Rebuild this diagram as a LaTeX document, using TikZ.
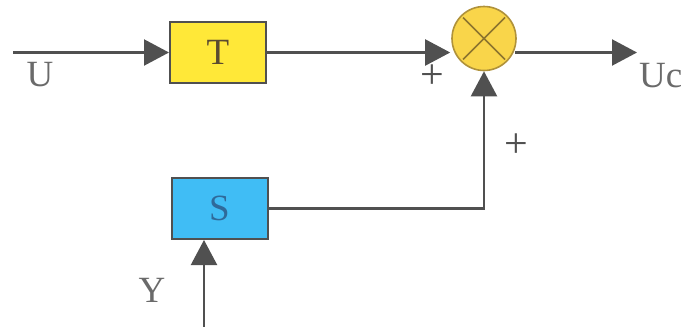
\documentclass[tikz,border=0pt]{standalone}
\usepackage{fontspec}
\setmainfont{Liberation Serif}
\usetikzlibrary{arrows.meta,calc}
\definecolor{lin}{HTML}{505050}
\definecolor{tfill}{HTML}{FFE838}
\definecolor{sfill}{HTML}{40BDF5}
\definecolor{cfill}{HTML}{F9D54A}
\definecolor{cedge}{HTML}{B0923A}
\definecolor{txt}{HTML}{6A6A6A}
\definecolor{stxt}{HTML}{2F6A9A}
\definecolor{ttxt}{HTML}{5A4A30}
\tikzset{
  blk/.style={draw=lin, line width=2pt, minimum width=96pt, minimum height=61pt, inner sep=0pt, font=\fontsize{37}{40}\selectfont},
  sumc/.style={circle, draw=cedge, fill=cfill, line width=1.6pt, minimum size=64pt, inner sep=0pt},
  wire/.style={draw=lin, line width=2.2pt},
  arr/.style={wire, -{Triangle[length=25pt,width=26pt]}},
  lbl/.style={text=txt, font=\fontsize{37}{40}\selectfont, inner sep=0pt},
  pm/.style={text=lin, font=\fontsize{42}{44}\selectfont, inner sep=0pt}
}
\begin{document}
\begin{tikzpicture}[x=1pt,y=-1pt]
\useasboundingbox (0,0) rectangle (681,327);
\node[blk, fill=tfill, text=ttxt] (T) at (218,52.5) {T};
\node[blk, fill=sfill, text=stxt] (S) at (219.5,208.5) {S};
\node[sumc] (sum) at (484,38.5) {};
\draw[cedge!80!black, line width=1.6pt] ($(sum.center)+(-21,-21)$) -- ($(sum.center)+(21,21)$)
  ($(sum.center)+(21,-21)$) -- ($(sum.center)+(-21,21)$);
\coordinate (uin) at (13,52.5);
\coordinate (out) at (637,52.5);
\coordinate (yin) at (204,327);
\coordinate (bend) at (484,208.5);
\draw[arr] (uin) -- (T.west);
\draw[arr] (T.east) -- ($(sum.west |- T.east)+(-1,0)$);
\draw[arr] ($(sum.east |- out)+(-2,0)$) -- (out);
\draw[arr] (S.east) -- (bend) -- (sum.south);
\draw[arr] (yin) -- (yin |- S.south);
\node[lbl] (lu) at (40,75) {U};
\node[lbl, anchor=west] (luc) at (639,76) {Uc};
\node[lbl] (ly) at (152,290) {Y};
\node[pm] (p1) at (432,77) {+};
\node[pm] (p2) at (516,146) {+};
\end{tikzpicture}
\end{document}
